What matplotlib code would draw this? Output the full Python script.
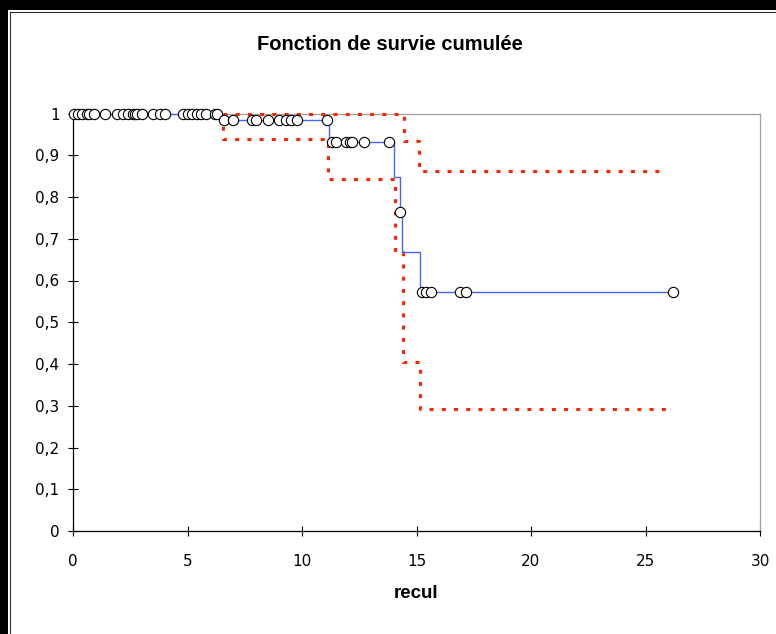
import numpy as np
import matplotlib
matplotlib.use("Agg")
import matplotlib.pyplot as plt
from matplotlib.patches import Rectangle
from matplotlib.lines import Line2D

# Courbe de Kaplan-Meier (temps de saut, survie après le saut)
km_t = [0.0, 6.45, 11.2, 14.0, 14.3, 14.35, 15.15, 26.2]
km_s = [1.0, 0.984, 0.932, 0.849, 0.765, 0.668, 0.573, 0.573]

# Bornes de l'intervalle de confiance
ub_t = [6.55, 14.47, 15.13, 25.9]
ub_s = [1.0, 0.934, 0.862, 0.862]
lb_t = [6.55, 6.55, 11.15, 14.04, 14.4, 15.16, 25.9]
lb_s = [1.0, 0.938, 0.842, 0.669, 0.4055, 0.2915, 0.2915]

# Observations censurées
cens_t = [0.05, 0.2, 0.4, 0.6, 0.7, 0.9, 1.4, 1.9, 2.2, 2.4, 2.6, 2.7, 2.8, 3.0,
          3.5, 3.8, 4.0, 4.8, 5.0, 5.2, 5.4, 5.6, 5.8, 6.2, 6.3,
          6.6, 7.0, 7.8, 8.0, 8.5, 9.0, 9.3, 9.5, 9.8, 11.1,
          11.3, 11.5, 11.9, 12.1, 12.2, 12.7, 13.8,
          14.3,
          15.26, 15.43, 15.65, 16.88, 17.18, 26.2]

xticks = [0, 5, 10, 15, 20, 25, 30]
yticks = [0, 0.1, 0.2, 0.3, 0.4, 0.5, 0.6, 0.7, 0.8, 0.9, 1.0]
ytick_labels = ["0", "0,1", "0,2", "0,3", "0,4", "0,5", "0,6", "0,7", "0,8", "0,9", "1"]

# survie au moment de chaque censure
idx = np.searchsorted(km_t, cens_t, side="right") - 1
cens_s = np.array(km_s)[idx]

W, H = 776, 634
fig = plt.figure(figsize=(W / 100, H / 100), dpi=100)
fig.patch.set_facecolor("white")

# bandes noires du cadre (haut et gauche)
fig.add_artist(Rectangle((0, 0), 8 / W, 1, transform=fig.transFigure, color="black", lw=0))
fig.add_artist(Rectangle((0, 1 - 10 / H), 1, 10 / H, transform=fig.transFigure, color="black", lw=0))
fig.add_artist(Line2D([9.5 / W, 9.5 / W], [0, 1 - 11.5 / H], transform=fig.transFigure, color="#333333", lw=0.8))
fig.add_artist(Line2D([9.5 / W, 1], [1 - 11.5 / H, 1 - 11.5 / H], transform=fig.transFigure, color="#333333", lw=0.8))

ax = fig.add_axes([73 / W, 1 - 531 / H, (760 - 73) / W, (531 - 113.5) / H])

red = "#FF2200"
dots = (0, (1.3, 2.7))
ax.plot(ub_t, ub_s, drawstyle="steps-post", color=red, lw=2.2, linestyle=dots,
        dash_capstyle="butt", zorder=3, clip_on=False)
ax.plot(lb_t, lb_s, drawstyle="steps-post", color=red, lw=2.2, linestyle=dots,
        dash_capstyle="butt", zorder=3, clip_on=False)
ax.plot(km_t, km_s, drawstyle="steps-post", color="#4466FF", lw=1.0, zorder=3.5,
        clip_on=False)
ax.plot(cens_t, cens_s, linestyle="none", marker="o", markersize=7.4,
        markerfacecolor="white", markeredgecolor="black", markeredgewidth=0.8,
        zorder=4, clip_on=False)

ax.set_xlim(0, 30)
ax.set_ylim(0, 1)
ax.set_xticks(xticks)
ax.set_xticklabels([str(v) for v in xticks])
ax.set_yticks(yticks)
ax.set_yticklabels(ytick_labels)
ax.tick_params(direction="inout", length=7.5, width=0.8, labelsize=11, pad=6,
               colors="black")
ax.tick_params(axis="x", pad=13)

ax.spines["left"].set_color("black")
ax.spines["bottom"].set_color("black")
ax.spines["top"].set_color("#A0A0A0")
ax.spines["right"].set_color("#A0A0A0")
for s in ax.spines.values():
    s.set_linewidth(0.9)

fig.text(0.5 + 2 / W, 1 - 44 / H, "Fonction de survie cumulée", ha="center", va="center",
         fontsize=14.5, fontweight="bold", family="Liberation Sans")
fig.text(73 / W + (760 - 73) / (2 * W), 1 - 593 / H, "recul", ha="center", va="center",
         fontsize=13.5, fontweight="bold", family="Liberation Sans")

fig.savefig("out.png", dpi=100)
